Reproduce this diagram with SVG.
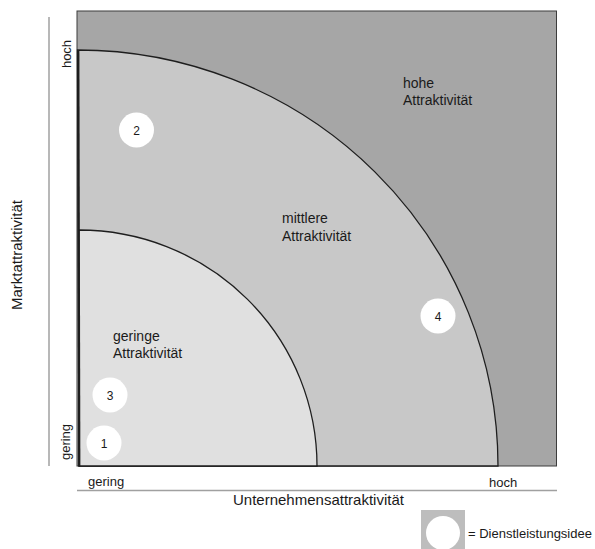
<svg xmlns="http://www.w3.org/2000/svg" width="595" height="549" viewBox="0 0 595 549">
<style>
  text { font-family: "Liberation Sans", Arial, sans-serif; fill: #1a1a1a; }
  .lbl { font-size: 14px; }
  .ax { font-size: 15px; }
  .tick { font-size: 13px; }
  .num { font-size: 12px; text-anchor: middle; }
  .dot { fill: #ffffff; stroke: none; }
  .axis { stroke: #a0a0a0; stroke-width: 1.5; fill: none; }
  .edge { stroke: #1e1e1e; stroke-width: 1.3; }
</style>
<rect width="595" height="549" fill="#ffffff"/>

<g id="zone-hoch">
  <rect x="77" y="11" width="479.5" height="455" fill="#a6a6a6" stroke="#3c3c3c" stroke-width="1"/>
  <text class="lbl" x="403" y="88">hohe</text>
  <text class="lbl" x="403" y="105">Attraktivität</text>
</g>

<g id="zone-mittel">
  <path class="edge" d="M 79,466 L 77.5,50 A 420.5,416 0 0 1 498,466 Z" fill="#c8c8c8"/>
  <text class="lbl" x="282" y="223">mittlere</text>
  <text class="lbl" x="282" y="241">Attraktivität</text>
</g>

<g id="zone-gering">
  <path class="edge" d="M 79,466 L 79,230 A 238,236 0 0 1 317,466 Z" fill="#e0e0e0"/>
  <text class="lbl" x="113" y="341">geringe</text>
  <text class="lbl" x="113" y="358">Attraktivität</text>
</g>

<g id="connectors">
  <line class="axis" x1="49" y1="17" x2="49" y2="466"/>
  <line class="axis" x1="77" y1="490.5" x2="557" y2="490.5"/>
  <line x1="78.3" y1="50" x2="79.3" y2="466" stroke="#1e1e1e" stroke-width="2.2"/>
</g>

<g id="idea-1">
  <circle class="dot" cx="104" cy="443" r="17.5"/>
  <text class="num" x="104" y="447.5">1</text>
</g>
<g id="idea-2">
  <circle class="dot" cx="136.5" cy="130" r="17.5"/>
  <text class="num" x="136.5" y="134.5">2</text>
</g>
<g id="idea-3">
  <circle class="dot" cx="110" cy="395" r="17.5"/>
  <text class="num" x="110" y="399.5">3</text>
</g>
<g id="idea-4">
  <circle class="dot" cx="438" cy="316" r="17.5"/>
  <text class="num" x="438" y="320.5">4</text>
</g>

<g id="axis-labels">
  <text class="ax" transform="translate(22,255) rotate(-90)" text-anchor="middle">Marktattraktivität</text>
  <text class="tick" transform="translate(70.5,54) rotate(-90)" text-anchor="middle">hoch</text>
  <text class="tick" transform="translate(69.5,442) rotate(-90)" text-anchor="middle">gering</text>
  <text class="tick" x="88" y="486">gering</text>
  <text class="tick" x="489" y="487">hoch</text>
  <text class="ax" x="233" y="505">Unternehmensattraktivität</text>
</g>

<g id="legend">
  <rect x="421" y="510" width="44" height="42" fill="#bdbdbd"/>
  <circle class="dot" cx="443" cy="533" r="17"/>
  <text class="tick" x="468" y="538">= Dienstleistungsidee</text>
</g>
</svg>
